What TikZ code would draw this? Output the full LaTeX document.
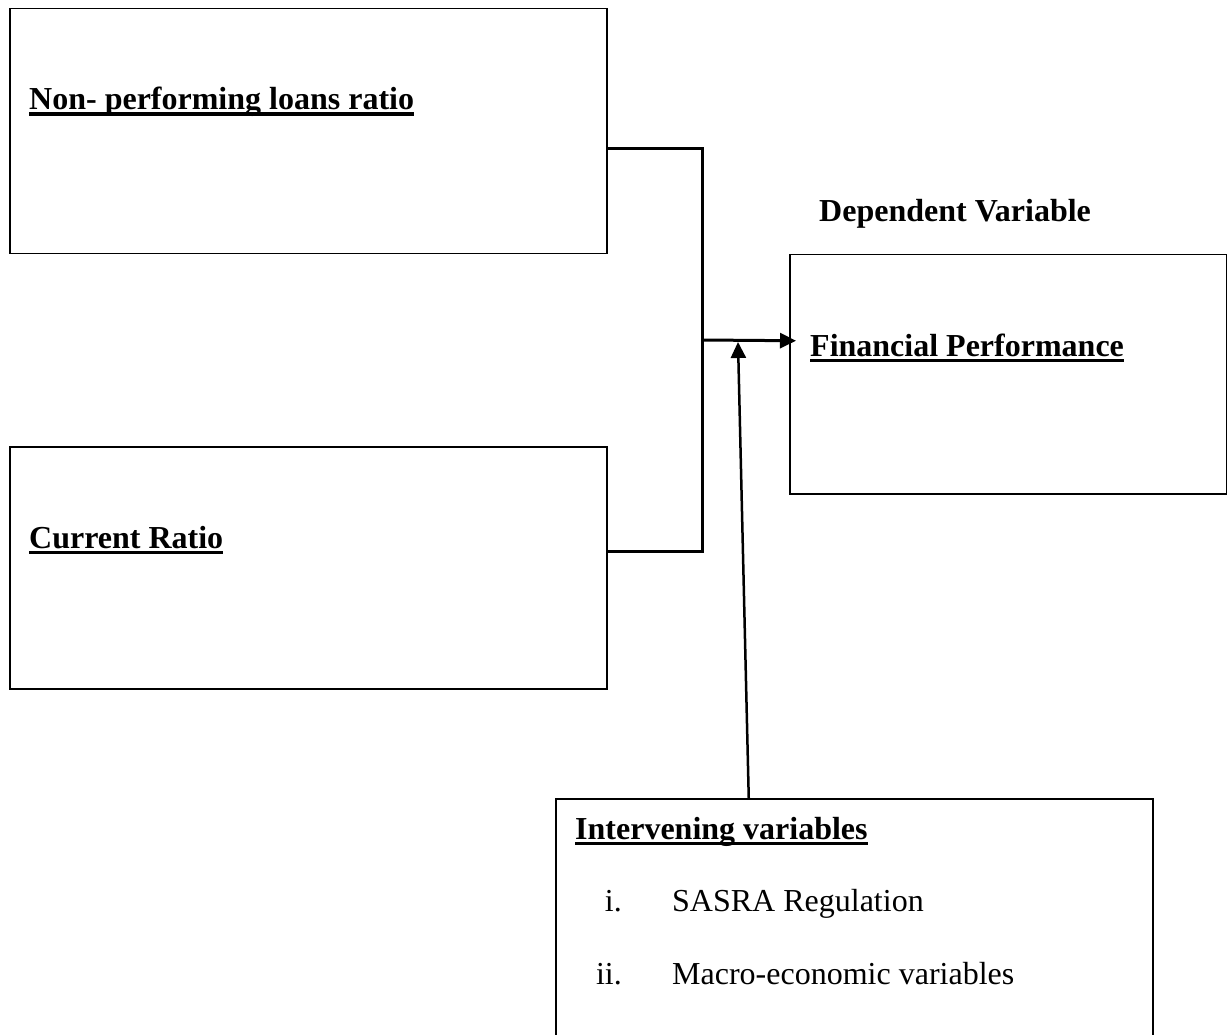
\documentclass[tikz,border=0pt]{standalone}
\usepackage{fontspec}
\setmainfont{Liberation Serif}
\usetikzlibrary{arrows.meta}
\newcommand\ulbold[1]{\setbox0\hbox{#1}\rlap{\rule[-6pt]{\wd0}{3.5pt}}\box0}
\begin{document}
\begin{tikzpicture}[x=1pt,y=-1pt,
  boxst/.style={draw=black, line width=1.5pt, rectangle, inner sep=0pt, anchor=north west},
  txt/.style={inner sep=0pt, font=\fontsize{32}{38}\selectfont},
  btxt/.style={txt, font=\fontsize{32}{38}\selectfont\bfseries, anchor=base west},
  conn/.style={line width=3pt, draw=black},
  arr/.style={conn, -{Triangle[length=16pt,width=15pt]}}]
\path[use as bounding box, clip] (0,0) rectangle (1227,1035);
\fill[white] (0,0) rectangle (1227,1035);
% boxes
\node[boxst, minimum width=597pt, minimum height=245pt] (npl) at (9,8) {};
\node[boxst, minimum width=597pt, minimum height=242pt] (cr) at (9,446) {};
\node[boxst, minimum width=437pt, minimum height=239pt] (fp) at (789,254) {};
\node[boxst, minimum width=597pt, minimum height=250pt] (iv) at (555,798) {};
% texts
\node[btxt] (tnpl) at (29,110) {\ulbold{Non- performing loans ratio}};
\node[btxt] (tdep) at (819,222) {Dependent Variable};
\node[btxt] (tfp) at (810,356) {\ulbold{Financial Performance}};
\node[btxt] (tcr) at (29,548) {\ulbold{Current Ratio}};
\node[btxt] (tiv) at (575,839) {\ulbold{Intervening variables}};
\node[txt, anchor=base east] (ti) at (622,911) {i.};
\node[txt, anchor=base west] (tsasra) at (672,911) {SASRA Regulation};
\node[txt, anchor=base east] (tii) at (622,984) {ii.};
\node[txt, anchor=base west] (tmacro) at (672,984) {Macro-economic variables};
% connectors
\coordinate (j) at (702,340);
\coordinate (tip) at (738,342);
\draw[conn] ([yshift=-17.5pt]npl.east) -| (j);
\draw[conn] ([yshift=16pt]cr.east) -| (j);
\draw[arr] (j) -- ([xshift=7pt,yshift=33.5pt]fp.west);
\draw[arr, line width=2.5pt] ([xshift=-105.5pt]iv.north) -- (tip);
\end{tikzpicture}
\end{document}
